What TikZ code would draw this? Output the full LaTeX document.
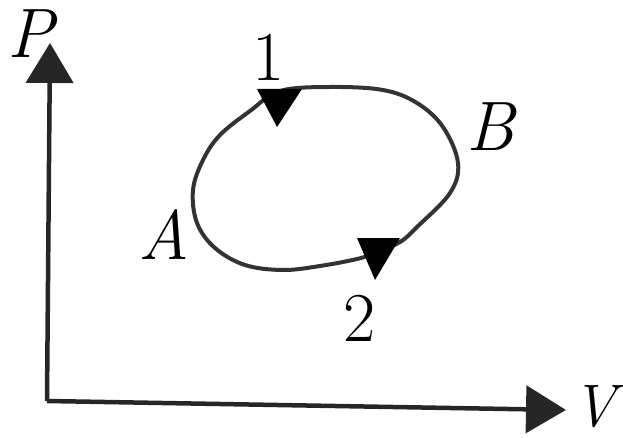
\documentclass[tikz,border=0pt]{standalone}
\usetikzlibrary{arrows.meta}
\begin{document}
\begin{tikzpicture}[x=1pt,y=-1pt,
  lbl/.style={inner sep=0pt,font=\fontsize{70}{70}\selectfont},
  axis/.style={line width=4.5pt,draw=black!85,-{Triangle[length=40pt,width=47pt]}},
  loop/.style={line width=4pt,draw=black!80},
  head/.style={fill=black}]
\useasboundingbox (0,0) rectangle (623,438);
\coordinate (O) at (47,401);
\coordinate (Ytip) at (50,43);
\coordinate (Xtip) at (566,410);
\draw[axis] (O) -- (Ytip);
\draw[axis] (O) -- (Xtip);
\node[lbl] (P) at (31,34) {\itshape P};
\node[lbl,font=\fontsize{60}{60}\selectfont] (V) at (594,407) {\itshape V};
\draw[loop] plot[smooth cycle,tension=0.6] coordinates {
 (280,91) (330,87) (383,90) (417,103) (443,127) (458,163) (450,193)
 (417,227) (400,242) (375,253) (357,259) (320,266) (283,270) (245,265)
 (215,248) (197,223) (193,190) (203,160) (220,135) (250,111)};
\fill[head] (257,89) -- (302,89) -- (277,127) -- cycle;
\fill[head] (357,238) -- (400,238) -- (375,280) -- cycle;
\node[lbl] (n1) at (269,57) {1};
\node[lbl] (n2) at (360,318) {2};
\node[lbl] (A) at (164,235) {\itshape A};
\node[lbl] (B) at (491,127) {\itshape B};
\end{tikzpicture}
\end{document}
